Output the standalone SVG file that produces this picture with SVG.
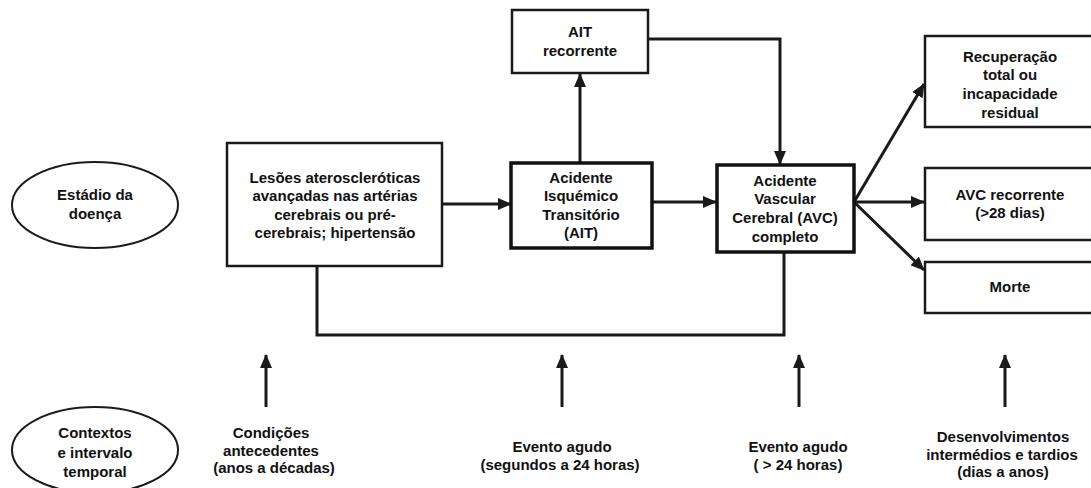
<svg xmlns="http://www.w3.org/2000/svg" width="1091" height="488" viewBox="0 0 1091 488">
<style>
text{font-family:"Liberation Sans",Arial,sans-serif;font-size:15px;font-weight:bold;fill:#111;text-anchor:middle}
.box{fill:#fff;stroke:#1a1a1a;stroke-width:2.5}
.thick{fill:#fff;stroke:#111;stroke-width:3.5}
.ell{fill:#fff;stroke:#1a1a1a;stroke-width:2}
.c{fill:none;stroke:#1a1a1a;stroke-width:3}
</style>
<defs>
<marker id="ah" markerUnits="userSpaceOnUse" markerWidth="14" markerHeight="12" refX="13" refY="6" orient="auto">
<path d="M0,0 L14,6 L0,12 z" fill="#1a1a1a"/>
</marker>
</defs>
<rect width="1091" height="488" fill="#fff"/>
<g id="connectors">
<line class="c" x1="442" y1="204" x2="511" y2="204" marker-end="url(#ah)"/>
<line class="c" x1="580" y1="163" x2="580" y2="74" marker-end="url(#ah)"/>
<path class="c" d="M648,39 H780 V164" marker-end="url(#ah)"/>
<line class="c" x1="652" y1="202" x2="716" y2="202" marker-end="url(#ah)"/>
<path class="c" d="M317,266 V335 H784 V252"/>
<line class="c" x1="854" y1="202" x2="924" y2="84" marker-end="url(#ah)"/>
<line class="c" x1="854" y1="202" x2="924" y2="202" marker-end="url(#ah)"/>
<line class="c" x1="854" y1="202" x2="924" y2="270" marker-end="url(#ah)"/>
<line class="c" x1="266" y1="407" x2="266" y2="355" marker-end="url(#ah)"/>
<line class="c" x1="562" y1="407" x2="562" y2="355" marker-end="url(#ah)"/>
<line class="c" x1="799" y1="407" x2="799" y2="355" marker-end="url(#ah)"/>
<line class="c" x1="1005" y1="407" x2="1005" y2="355" marker-end="url(#ah)"/>
</g>
<g id="estadio">
<ellipse class="ell" cx="95" cy="205" rx="83" ry="43"/>
<text x="95" y="200">Estádio da</text>
<text x="95" y="219">doença</text>
</g>
<g id="contextos">
<ellipse class="ell" cx="95" cy="450" rx="83" ry="43"/>
<text x="95" y="438">Contextos</text>
<text x="95" y="458">e intervalo</text>
<text x="95" y="477">temporal</text>
</g>
<g id="lesoes">
<rect class="box" x="227" y="143" width="215" height="123"/>
<text x="335" y="183">Lesões ateroscleróticas</text>
<text x="335" y="201">avançadas nas artérias</text>
<text x="335" y="220">cerebrais ou pré-</text>
<text x="335" y="238">cerebrais; hipertensão</text>
</g>
<g id="ait">
<rect class="thick" x="511" y="163" width="141" height="85"/>
<text x="581" y="183">Acidente</text>
<text x="581" y="201">Isquémico</text>
<text x="581" y="220">Transitório</text>
<text x="581" y="238">(AIT)</text>
</g>
<g id="ait-recorrente">
<rect class="box" x="512" y="10" width="136" height="63"/>
<text x="580" y="37">AIT</text>
<text x="580" y="56">recorrente</text>
</g>
<g id="avc">
<rect class="thick" x="717" y="165" width="137" height="87"/>
<text x="785" y="186">Acidente</text>
<text x="785" y="204">Vascular</text>
<text x="785" y="223">Cerebral (AVC)</text>
<text x="785" y="242">completo</text>
</g>
<g id="recuperacao">
<rect class="box" x="925" y="36" width="170" height="91"/>
<text x="1010" y="62">Recuperação</text>
<text x="1010" y="80">total ou</text>
<text x="1010" y="99">incapacidade</text>
<text x="1010" y="118">residual</text>
</g>
<g id="avc-recorrente">
<rect class="box" x="925" y="168" width="170" height="72"/>
<text x="1010" y="200">AVC recorrente</text>
<text x="1010" y="218">(&gt;28 dias)</text>
</g>
<g id="morte">
<rect class="box" x="925" y="262" width="170" height="51"/>
<text x="1010" y="292">Morte</text>
</g>
<g id="condicoes">
<text x="271" y="438">Condições</text>
<text x="271" y="456">antecedentes</text>
<text x="274" y="473">(anos a décadas)</text>
</g>
<g id="evento-ait">
<text x="562" y="452">Evento agudo</text>
<text x="560" y="470">(segundos a 24 horas)</text>
</g>
<g id="evento-avc">
<text x="798" y="452">Evento agudo</text>
<text x="798" y="470">( &gt; 24 horas)</text>
</g>
<g id="desenvolvimentos">
<text x="1003" y="442">Desenvolvimentos</text>
<text x="1002" y="460">intermédios e tardios</text>
<text x="1003" y="477">(dias a anos)</text>
</g>
</svg>
